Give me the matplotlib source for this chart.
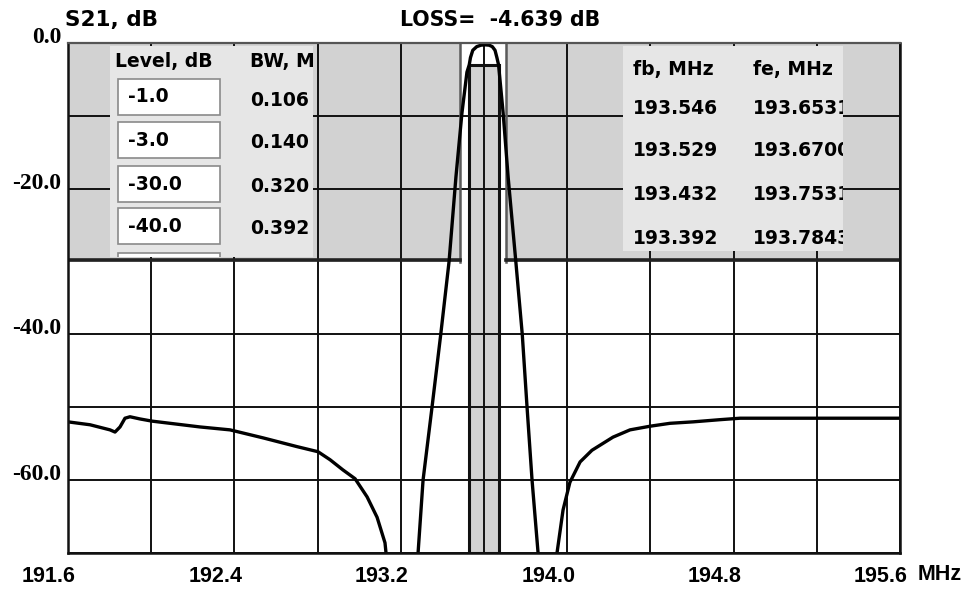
import numpy as np
import matplotlib.pyplot as plt
from matplotlib.patches import Rectangle
import matplotlib.transforms as mtransforms

# S21 trace (MHz, dB)
freq = [191.600, 191.706, 191.802, 191.826, 191.850, 191.874, 191.898, 191.946, 192.004,
        192.235, 192.379, 192.538, 192.701, 192.802, 192.860, 192.922, 192.980, 193.038,
        193.086, 193.124, 193.129,
        193.160, 193.200, 193.250,
        193.283, 193.307, 193.350, 193.392, 193.432, 193.465, 193.494, 193.518,
        193.529, 193.535, 193.546, 193.565, 193.585, 193.605, 193.625, 193.640, 193.653,
        193.662, 193.670, 193.692, 193.716, 193.753, 193.784, 193.807, 193.831, 193.860,
        193.880, 193.905, 193.930,
        193.951, 193.980, 194.013, 194.062, 194.119, 194.220, 194.302, 194.398, 194.494,
        194.605, 194.735, 194.831, 195.600]
s21 = [-52.0, -52.4, -53.1, -53.4, -52.7, -51.5, -51.3, -51.6, -51.9,
       -52.7, -53.1, -54.2, -55.4, -56.1, -57.2, -58.6, -59.8, -62.3,
       -65.1, -68.6, -70.0,
       -80.0, -90.0, -80.0,
       -70.0, -60.0, -50.0, -40.0, -30.0, -18.4, -9.6, -4.0,
       -3.0, -2.0, -1.0, -0.5, -0.3, -0.25, -0.3, -0.5, -1.0,
       -2.0, -3.0, -9.6, -18.4, -30.0, -40.0, -50.0, -60.0, -70.0,
       -80.0, -90.0, -80.0,
       -70.0, -64.1, -60.3, -57.5, -55.9, -54.1, -53.1, -52.6, -52.2,
       -52.0, -51.7, -51.5, -51.5]

# bandwidth table
levels = ["-1.0", "-3.0", "-30.0", "-40.0"]
bw = ["0.106", "0.140", "0.320", "0.392"]
fb = ["193.546", "193.529", "193.432", "193.392"]
fe = ["193.6531", "193.6700", "193.7531", "193.7843"]
loss = -4.639

xticks = np.arange(191.6, 195.61, 0.4)
xlabels = ["191.6", "", "192.4", "", "193.2", "", "194.0", "", "194.8", "", "195.6"]
yticks = np.arange(-70, 0.1, 10)
ylabels = ["", "-60.0", "", "-40.0", "", "-20.0", "", "0.0"]

W, H = 979, 591
L, R, T, B = 68, 900, 43, 553
fig = plt.figure(figsize=(W/100, H/100), dpi=100)
ax = fig.add_axes([L/W, 1-B/H, (R-L)/W, (B-T)/H])
ax.set_xlim(191.6, 195.6)
ax.set_ylim(-70, 0)

def ax_rect(x0, y0, x1, y1, **kw):
    # pixel box -> axes fraction
    return Rectangle(((x0-L)/(R-L), (B-y1)/(B-T)), (x1-x0)/(R-L), (y1-y0)/(B-T),
                     transform=ax.transAxes, **kw)

gray = "#d2d2d2"
light = "#e6e6e6"
gap_l, gap_r = 193.485, 193.706

# grey top area with white gap around the passband
ax.add_patch(Rectangle((191.6, -30), 4.0, 30, facecolor=gray, edgecolor="none", zorder=0))
ax.add_patch(Rectangle((gap_l, -30), gap_r-gap_l, 30, facecolor="white", edgecolor="none", zorder=0.5))
for xg in [gap_l, gap_r]:
    ax.plot([xg, xg], [-30, 0], color="#5a5a5a", lw=1.8, zorder=2.5)
# -3 dB band
band_l, band_r = float(fb[1]), float(fe[1])
ax.add_patch(Rectangle((band_l, -70), band_r-band_l, 67, facecolor=gray,
                       edgecolor="#111111", lw=2.2, zorder=1))

# grid
for xv in xticks:
    ax.axvline(xv, color="#111111", lw=1.4, zorder=2)
for yv in yticks:
    if yv == -30:
        continue
    ax.axhline(yv, color="#111111", lw=1.4, zorder=2)
ax.plot([191.6, gap_l], [-29.8, -29.8], color="#222222", lw=2.6, zorder=2.6)
ax.plot([gap_r, 195.6], [-29.8, -29.8], color="#222222", lw=2.6, zorder=2.6)

# table panels
pl = ax_rect(110, 46, 313, 257, facecolor=light, edgecolor="none", zorder=3)
pr = ax_rect(623, 46, 843, 251, facecolor=light, edgecolor="none", zorder=3)
ax.add_patch(pl)
ax.add_patch(pr)

tfont = dict(family="DejaVu Sans", weight="bold", fontsize=13.5, zorder=4)
def cell(px, py, s, clip=None):
    t = ax.text((px-L)/(R-L), (B-py)/(B-T), s, transform=ax.transAxes, va="center", **tfont)
    if clip is not None:
        t.set_clip_on(True)
        t.set_clip_path(clip)
    return t

cell(115, 61, "Level, dB")
cell(250, 61, "BW, MHz", pl)
box_tops = [79, 122, 166, 208, 253]
for i, top in enumerate(box_tops):
    bx = ax_rect(118, top, 220, top+36, facecolor="white", edgecolor="#8a8a8a", lw=1.2, zorder=3.5)
    ax.add_patch(bx)
    bx.set_clip_path(pl)
    if i < len(levels):
        cell(128, top+18, levels[i])
        cell(250, top+21, bw[i], pl)

cell(633, 70, "fb, MHz")
cell(753, 70, "fe, MHz")
rows = [108, 151, 194, 238]
for i, yr in enumerate(rows):
    cell(633, yr, fb[i])
    cell(753, yr, fe[i], pr)

# trace
ax.plot(freq, s21, color="black", lw=2.4, zorder=5, solid_joinstyle="round")

# axes styling
for side in ["left", "right", "bottom"]:
    ax.spines[side].set_linewidth(1.8)
    ax.spines[side].set_color("#111111")
ax.spines["top"].set_color("#555555")
ax.spines["top"].set_linewidth(1.6)
for s in ax.spines.values():
    s.set_zorder(6)

ax.set_xticks(xticks)
ax.set_xticklabels(xlabels, family="Liberation Sans", weight="bold", fontsize=15.5)
ax.set_yticks(yticks)
ax.set_yticklabels(ylabels, family="Liberation Serif", weight="bold", fontsize=17)
ax.tick_params(length=0)
ax.tick_params(axis="x", pad=9)
ax.tick_params(axis="y", pad=5)
for lab in ax.get_xticklabels():
    lab.set_transform(lab.get_transform() + mtransforms.ScaledTranslation(-0.19, 0, fig.dpi_scale_trans))
for lab in ax.get_yticklabels():
    lab.set_transform(lab.get_transform() + mtransforms.ScaledTranslation(0, 0.08, fig.dpi_scale_trans))

fig.text(918/W, 1-575/H, "MHz", family="Liberation Sans", weight="bold", fontsize=15.5, va="center")
fig.text(65/W, 1-20/H, "S21, dB", family="DejaVu Sans", weight="bold", fontsize=15.5, va="center")
fig.text(400/W, 1-20/H, "LOSS=  %.3f dB" % loss, family="DejaVu Sans", weight="bold",
         fontsize=14.8, va="center")

plt.savefig("out.png", dpi=100)
